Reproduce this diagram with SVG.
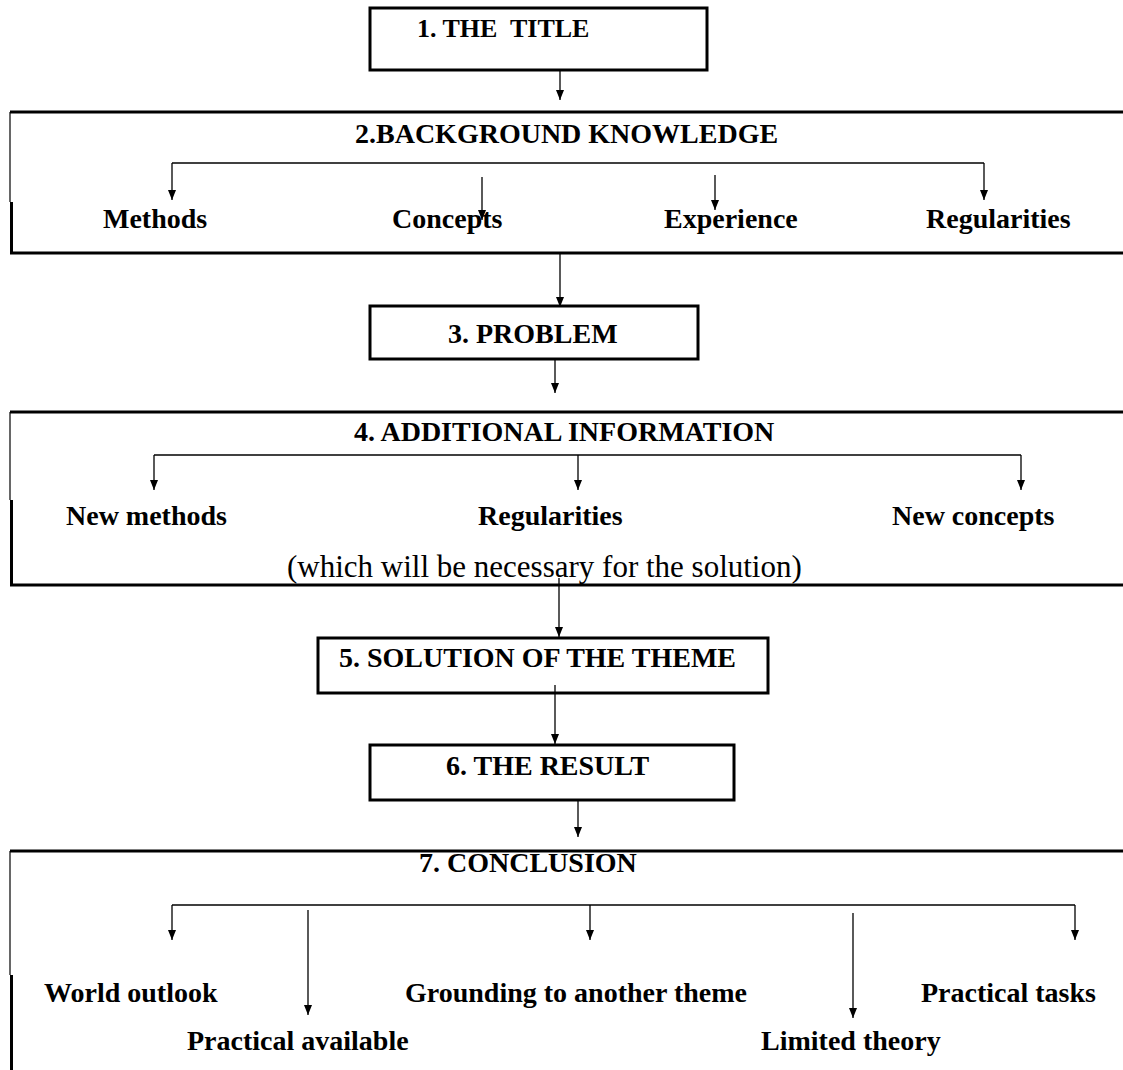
<svg xmlns="http://www.w3.org/2000/svg" width="1123" height="1070" viewBox="0 0 1123 1070">
<defs>
<marker id="ah" markerWidth="10" markerHeight="8" refX="10" refY="4" orient="auto" markerUnits="userSpaceOnUse"><path d="M0,0 L10,4 L0,8 z" fill="#000"/></marker>
</defs>
<style>
.box{fill:none;stroke:#000;stroke-width:3}
.edge{fill:none;stroke:#000;stroke-width:1.2}
.h{font-family:"Liberation Serif","Times New Roman",serif;font-weight:bold;font-size:28px;fill:#000}
.r{font-family:"Liberation Serif","Times New Roman",serif;font-size:31px;fill:#000}
.c{fill:none;stroke:#000;stroke-width:1.3}
.a{fill:none;stroke:#000;stroke-width:1.3;marker-end:url(#ah)}
</style>
<rect width="1123" height="1070" fill="#fff"/>

<g id="n1">
<rect class="box" x="370" y="8" width="337" height="62"/>
<text class="h" x="417" y="37" style="font-size:26px" xml:space="preserve">1. THE  TITLE</text>
</g>

<g id="n2">
<path class="box" d="M10,112 H1125 M10,253 H1125 M11.5,202 V254.5"/>
<path class="edge" d="M10,112 V202"/>
<text class="h" x="355" y="143">2.BACKGROUND KNOWLEDGE</text>
<text class="h" x="103" y="228">Methods</text>
<text class="h" x="392" y="228">Concepts</text>
<text class="h" x="664" y="228">Experience</text>
<text class="h" x="926" y="228">Regularities</text>
</g>

<g id="n3">
<rect class="box" x="370" y="306" width="328" height="53"/>
<text class="h" x="448" y="343">3. PROBLEM</text>
</g>

<g id="n4">
<path class="box" d="M10,412 H1125 M10,585 H1125 M11.5,500 V586.5"/>
<path class="edge" d="M10,412 V500"/>
<text class="h" x="354" y="441">4. ADDITIONAL INFORMATION</text>
<text class="h" x="66" y="525">New methods</text>
<text class="h" x="478" y="525">Regularities</text>
<text class="h" x="892" y="525">New concepts</text>
<text class="r" x="287" y="577">(which will be necessary for the solution)</text>
</g>

<g id="n5">
<rect class="box" x="318" y="638" width="450" height="55"/>
<text class="h" x="339" y="667">5. SOLUTION OF THE THEME</text>
</g>

<g id="n6">
<rect class="box" x="370" y="745" width="364" height="55"/>
<text class="h" x="446" y="775">6. THE RESULT</text>
</g>

<g id="n7">
<path class="box" d="M10,851 H1125 M11.5,975 V1075"/>
<path class="edge" d="M10,851 V975"/>
<text class="h" x="419" y="872">7. CONCLUSION</text>
<text class="h" x="44" y="1002">World outlook</text>
<text class="h" x="405" y="1002">Grounding to another theme</text>
<text class="h" x="921" y="1002">Practical tasks</text>
<text class="h" x="187" y="1050">Practical available</text>
<text class="h" x="761" y="1050">Limited theory</text>
</g>

<g id="connectors">
<path class="a" d="M560,70 V100"/>
<path class="c" d="M172,163 H984"/>
<path class="a" d="M172,163 V200"/>
<path class="a" d="M984,163 V200"/>
<path class="a" d="M482,177 V220"/>
<path class="a" d="M715,175 V210"/>
<path class="a" d="M560,254 V307"/>
<path class="a" d="M555,360 V393"/>
<path class="c" d="M154,455 H1021"/>
<path class="a" d="M154,455 V490"/>
<path class="a" d="M578,455 V490"/>
<path class="a" d="M1021,455 V490"/>
<path class="a" d="M559,578 V637"/>
<path class="a" d="M555,685 V744"/>
<path class="a" d="M578,801 V837"/>
<path class="c" d="M172,905 H1075"/>
<path class="a" d="M172,905 V940"/>
<path class="a" d="M590,905 V940"/>
<path class="a" d="M1075,905 V940"/>
<path class="a" d="M308,910 V1015"/>
<path class="a" d="M853,913 V1018"/>
</g>
</svg>
